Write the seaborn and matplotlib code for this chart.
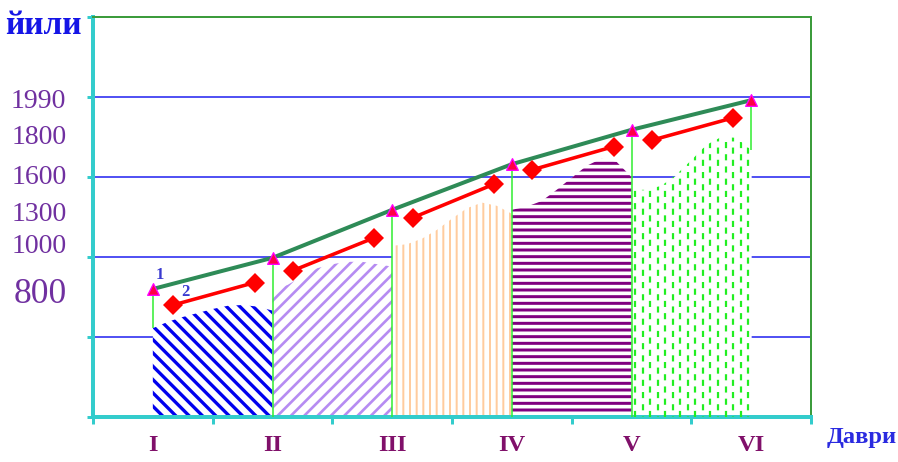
import matplotlib
matplotlib.use("Agg")
import matplotlib.pyplot as plt
import seaborn as sns
import numpy as np
import pandas as pd

sns.set_style("white")
plt.rcParams['font.family'] = ['Liberation Serif', 'DejaVu Serif']
plt.rcParams['lines.scale_dashes'] = False

# periods (x axis)
periods = ['I', 'II', 'III', 'IV', 'V', 'VI']
# year labels on the y axis and the height (grid units) where they sit
year_labels = ['1990', '1800', '1600', '1300', '1000', '800']
year_levels = [3.94, 3.50, 3.00, 2.53, 2.13, 1.53]
# line 1 (green, triangles): level at each period
line1 = [1.60, 1.99, 2.59, 3.16, 3.59, 3.96]
# line 2 (red segments): start / end level inside each period
line2_start = [1.40, 1.83, 2.49, 3.09, 3.46]
line2_end = [1.68, 2.24, 2.91, 3.38, 3.74]
# shaded areas between periods: top outline at fractions of the interval
area_frac = [0, 0.125, 0.25, 0.375, 0.5, 0.625, 0.75, 0.875, 1.0]
area_I = [1.11, 1.19, 1.25, 1.30, 1.35, 1.39, 1.40, 1.38, 1.33]
area_II = [1.59, 1.65, 1.76, 1.86, 1.91, 1.94, 1.94, 1.91, 1.88]
area_III = [2.14, 2.16, 2.23, 2.34, 2.48, 2.61, 2.68, 2.64, 2.54]
area_IV = [2.59, 2.63, 2.70, 2.84, 2.99, 3.14, 3.23, 3.19, 3.00]
area_V = [2.84, 2.84, 2.89, 3.03, 3.21, 3.40, 3.50, 3.49, 3.34]

DPI = 80
fig = plt.figure(figsize=(898 / DPI, 462 / DPI), dpi=DPI)
ax = fig.add_axes([93 / 898, 45 / 462, 718 / 898, 400 / 462])

centers = np.arange(len(periods)) + 0.5
frac = np.array(area_frac)

# horizontal grid lines
for lv in range(1, 5):
    ax.axhline(lv, color='#2323F0', lw=1.4, zorder=1)

# hatched areas
areas = [area_I, area_II, area_III, area_IV]
styles = [('#0000EE', '\\\\', 3.0), ('#B68CF2', '//', 2.4),
          ('#FFCC9E', '||', 1.8), ('#800080', '--', 2.7)]
for i, (top, (col, hatch, hlw)) in enumerate(zip(areas, styles)):
    with plt.rc_context({'hatch.linewidth': hlw}):
        coll = ax.fill_between(centers[i] + frac, 0, top, facecolor='white',
                               edgecolor=col, hatch=hatch, linewidth=0, zorder=2)
    if hasattr(coll, 'set_hatch_linewidth'):
        coll.set_hatch_linewidth(hlw)

# last area: dashed green columns
collV = ax.fill_between(centers[4] + frac, 0, area_V, facecolor='white',
                        linewidth=0, zorder=2)
clip = collV.get_paths()[0]
for k, cx in enumerate(np.arange(centers[4] + 0.03, centers[5], 0.063)):
    off = 0 if k % 2 == 0 else 5
    lc = ax.vlines(cx, 0, 4, colors='#22EE22', linewidth=2.0,
                   linestyles=[(off, (5.5, 5.5))], zorder=3)
    lc.set_clip_path(clip, ax.transData)

# thin vertical guides from the triangles
bottoms = [area_I[0], 0, 0, 0, 0, area_V[-1]]
ax.vlines(centers, bottoms, line1, colors='#33EE33', lw=1.4, zorder=3)

# line 1
sns.lineplot(x=centers, y=line1, color='#2E8B57', linewidth=3.6, zorder=4, ax=ax)
sns.scatterplot(x=centers, y=line1, marker='^', s=110, color='#FF0044',
                edgecolor='#FF00FF', linewidth=1.2, zorder=5, ax=ax)

# line 2 (separate segments)
seg_x, seg_y, seg_id = [], [], []
for i in range(len(line2_start)):
    seg_x += [centers[i] + 0.17, centers[i] + 0.85]
    seg_y += [line2_start[i], line2_end[i]]
    seg_id += [i, i]
df2 = pd.DataFrame({'x': seg_x, 'y': seg_y, 'seg': seg_id})
sns.lineplot(data=df2, x='x', y='y', units='seg', estimator=None, sort=False,
             color='#FF0000', linewidth=3.2, marker='D', markersize=13,
             markeredgewidth=0, zorder=4, ax=ax)

ax.text(0.56, 1.77, '1', fontsize=15, fontweight='bold', color='#3A3AD0',
        ha='center', va='center', zorder=6)
ax.text(0.77, 1.56, '2', fontsize=15, fontweight='bold', color='#3A3AD0',
        ha='center', va='center', zorder=6)

ax.set_xlim(0, 6)
ax.set_ylim(0, 5)
ax.set_xlabel('')
ax.set_ylabel('')

# x ticks: marks at the boundaries, labels at the period centres
ax.set_xticks(range(7))
ax.set_xticklabels([])
ax.set_xticks(centers, minor=True)
ax.set_xticklabels(periods, minor=True, fontsize=22, fontweight='bold',
                   color='#80106A')
ax.tick_params(axis='x', which='major', direction='out', length=6, width=2.7,
               color='#33CCCC', bottom=True)
ax.tick_params(axis='x', which='minor', length=0, pad=16, bottom=True)
ax.set_yticks(range(6))
ax.set_yticklabels([])
ax.tick_params(axis='y', direction='out', length=5, width=2.7,
               color='#33CCCC', left=True)

for lab, lv in zip(year_labels, year_levels):
    size = 32 if lab == '800' else 25
    ax.text(-0.037, lv, lab, transform=ax.get_yaxis_transform(), ha='right',
            va='center', fontsize=size, color='#7030A0')

for side in ['left', 'bottom']:
    ax.spines[side].set_color('#33CCCC')
    ax.spines[side].set_linewidth(3.6)
for side in ['top', 'right']:
    ax.spines[side].set_color('#3C9C3C')
    ax.spines[side].set_linewidth(1.8)

fig.text(43 / 898, 1 - 25 / 462, 'йили', ha='center', va='center',
         fontsize=30, fontweight='bold', color='#1515E6')
fig.text(862 / 898, 1 - 437 / 462, 'Даври', ha='center', va='center',
         fontsize=22, fontweight='bold', color='#2A2AE0')

fig.savefig('out.png', dpi=DPI, facecolor='white')
